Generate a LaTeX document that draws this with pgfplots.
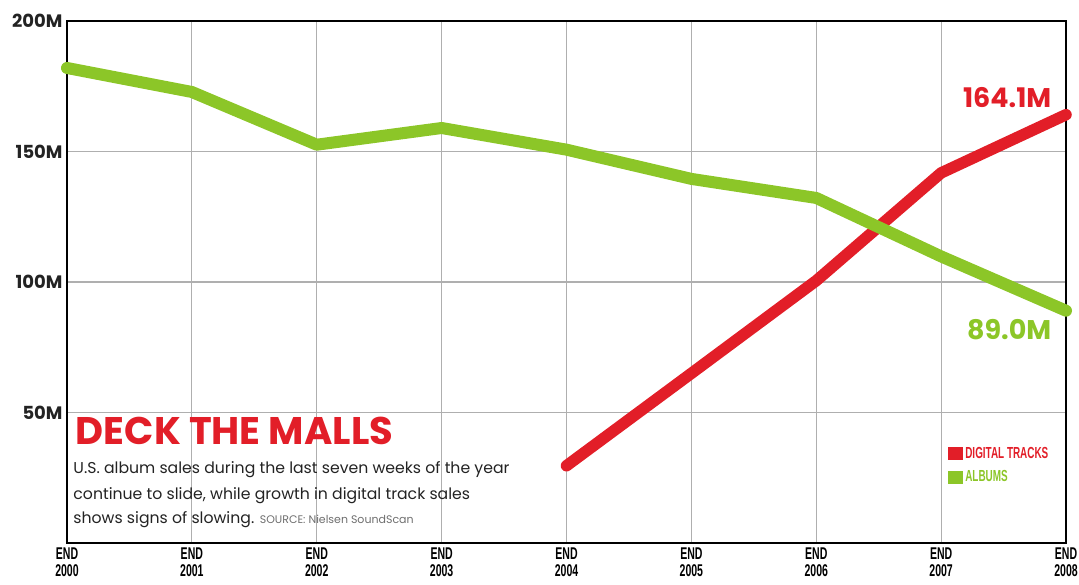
\documentclass[border=0pt]{standalone}
\usepackage{fontspec}
\setmainfont{Poppins}
\newfontfamily\condfont{Liberation Sans}[FakeStretch=0.62]
\usepackage{pgfplots}
\pgfplotsset{compat=1.18}
\definecolor{dred}{RGB}{226,30,40}
\definecolor{dgreen}{RGB}{140,198,40}
\definecolor{gridgray}{RGB}{175,175,175}
\definecolor{textgray}{RGB}{35,35,35}
\definecolor{srcgray}{RGB}{110,110,110}
\begin{document}
\begin{tikzpicture}[x=1pt,y=1pt]
\useasboundingbox (-67,-42) rectangle (1012,543);
\begin{axis}[
  at={(0,0)}, anchor=south west,
  scale only axis, width=999pt, height=522pt,
  xmin=2000, xmax=2008, ymin=0, ymax=200,
  xtick={2000,2001,2002,2003,2004,2005,2006,2007,2008},
  xticklabels={{END\\2000},{END\\2001},{END\\2002},{END\\2003},{END\\2004},{END\\2005},{END\\2006},{END\\2007},{END\\2008}},
  xticklabel style={align=center, font=\condfont\bfseries\fontsize{17}{17.5}\selectfont, text=black, yshift=-1pt},
  ytick={50,100,150,200},
  yticklabels={50M,100M,150M,200M},
  yticklabel style={font=\bfseries\fontsize{18}{18}\selectfont, text=textgray, xshift=-1pt},
  major tick length=0pt,
  grid=major,
  grid style={gridgray, line width=1.2pt},
  axis line style={line width=2.5pt, black},
  clip=false,
  legend style={draw=none, fill=none, at={(0.882,0.188)}, anchor=north west,
    inner sep=0pt, row sep=7pt, font=\condfont\bfseries\fontsize{16}{16}\selectfont},
  legend cell align=left,
  legend image code/.code={\fill[draw=none] (0pt,-6.5pt) rectangle (15pt,6.5pt);},
]
\addplot[dred, line width=11.5pt, line cap=round, line join=round]
  coordinates {(2004,29.6)(2005,65.0)(2006,100.5)(2007,141.8)(2008,164.1)};
\addlegendentry{\textcolor{dred}{DIGITAL TRACKS}}
\addplot[dgreen, line width=12pt, line cap=round, line join=round]
  coordinates {(2000,182.0)(2001,172.8)(2002,152.6)(2003,159.0)(2004,150.7)(2005,139.5)(2006,132.2)(2007,109.8)(2008,89.0)};
\addlegendentry{\textcolor{dgreen}{ALBUMS}}

\node[anchor=base east, text=dred, font=\bfseries\fontsize{27}{27}\selectfont] at (axis cs:2007.91,166.8) {164.1M};
\node[anchor=base east, text=dgreen, font=\bfseries\fontsize{27}{27}\selectfont] at (axis cs:2007.91,77.9) {89.0M};

\node[anchor=base west, text=dred, font=\bfseries\fontsize{38.5}{38.5}\selectfont, inner sep=0pt] at (axis cs:2000.07,37.6) {DECK THE MALLS};
\node[anchor=base west, text=textgray, font=\fontsize{15.7}{16}\selectfont, inner sep=0pt] at (axis cs:2000.05,26.5) {U.S. album sales during the last seven weeks of the year};
\node[anchor=base west, text=textgray, font=\fontsize{15.7}{16}\selectfont, inner sep=0pt] at (axis cs:2000.05,16.5) {continue to slide, while growth in digital track sales};
\node[anchor=base west, text=textgray, font=\fontsize{15.7}{16}\selectfont, inner sep=0pt] at (axis cs:2000.05,7.3) {shows signs of slowing. {\color{srcgray}\fontsize{11}{11}\selectfont SOURCE: Nielsen SoundScan}};
\end{axis}
\end{tikzpicture}
\end{document}
